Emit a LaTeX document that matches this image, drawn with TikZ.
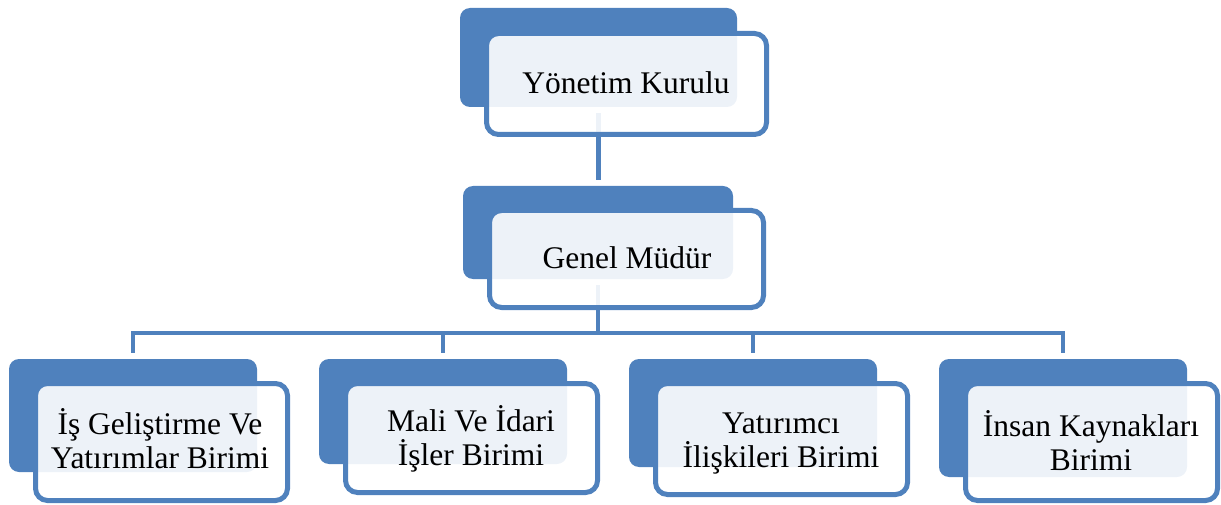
\documentclass[tikz,border=0pt]{standalone}
\usepackage{fontspec}
\setmainfont{Liberation Serif}
\definecolor{mavi}{HTML}{4F81BD}
\begin{document}
\begin{tikzpicture}[x=1pt,y=-1pt,
  arka/.style={fill=mavi,rounded corners=10pt,inner sep=0pt,outer sep=0pt,anchor=north west},
  on/.style={draw=mavi,line width=5pt,fill=white,fill opacity=0.9,rounded corners=12pt,inner sep=0pt,outer sep=0pt,anchor=north west},
  yazi/.style={anchor=base,align=center,font=\fontsize{31.5}{33.5}\selectfont},
  baglanti/.style={draw=mavi,line width=4.5pt,shorten <=6pt,shorten >=6pt}]
\useasboundingbox (0,0) rectangle (1221,505);
% arka kutular
\node[arka,minimum width=277,minimum height=99] (yk) at (460,8) {};
\node[arka,minimum width=270,minimum height=93] (gm) at (463,186) {};
\node[arka,minimum width=248,minimum height=113] (b1) at (9,359) {};
\node[arka,minimum width=248,minimum height=105] (b2) at (319,359) {};
\node[arka,minimum width=248,minimum height=108] (b3) at (629,359) {};
\node[arka,minimum width=248,minimum height=118] (b4) at (939,359) {};
% baglantilar
\coordinate (bus) at (598,333);
\draw[baglanti] (yk.south) -- (yk.south |- gm.north);
\draw[baglanti,shorten >=0pt] (gm.south) -- (bus);
\foreach \b in {b1,b2,b3,b4}
  \draw[baglanti,shorten <=0pt] (bus) -| (\b.north);
% on kutular
\node[on,minimum width=280,minimum height=101] (ykf) at (486.5,33.5) {};
\node[on,minimum width=274,minimum height=97] (gmf) at (489.5,210.5) {};
\node[on,minimum width=252,minimum height=117] (b1f) at (35.5,383.5) {};
\node[on,minimum width=252,minimum height=109] (b2f) at (345.5,383.5) {};
\node[on,minimum width=252,minimum height=111] (b3f) at (655.5,383.5) {};
\node[on,minimum width=252,minimum height=117] (b4f) at (965.5,383.5) {};
% yazilar (base = son satir)
\node[yazi] (ykt) at (626,94) {Yönetim Kurulu};
\node[yazi] (gmt) at (627,269) {Genel Müdür};
\node[yazi] (b1t) at (160,468) {İş Geliştirme Ve\\Yatırımlar Birimi};
\node[yazi] (b2t) at (471,465) {Mali Ve İdari\\İşler Birimi};
\node[yazi] (b3t) at (781,467) {Yatırımcı\\İlişkileri Birimi};
\node[yazi] (b4t) at (1091,470) {İnsan Kaynakları\\Birimi};
\end{tikzpicture}
\end{document}
